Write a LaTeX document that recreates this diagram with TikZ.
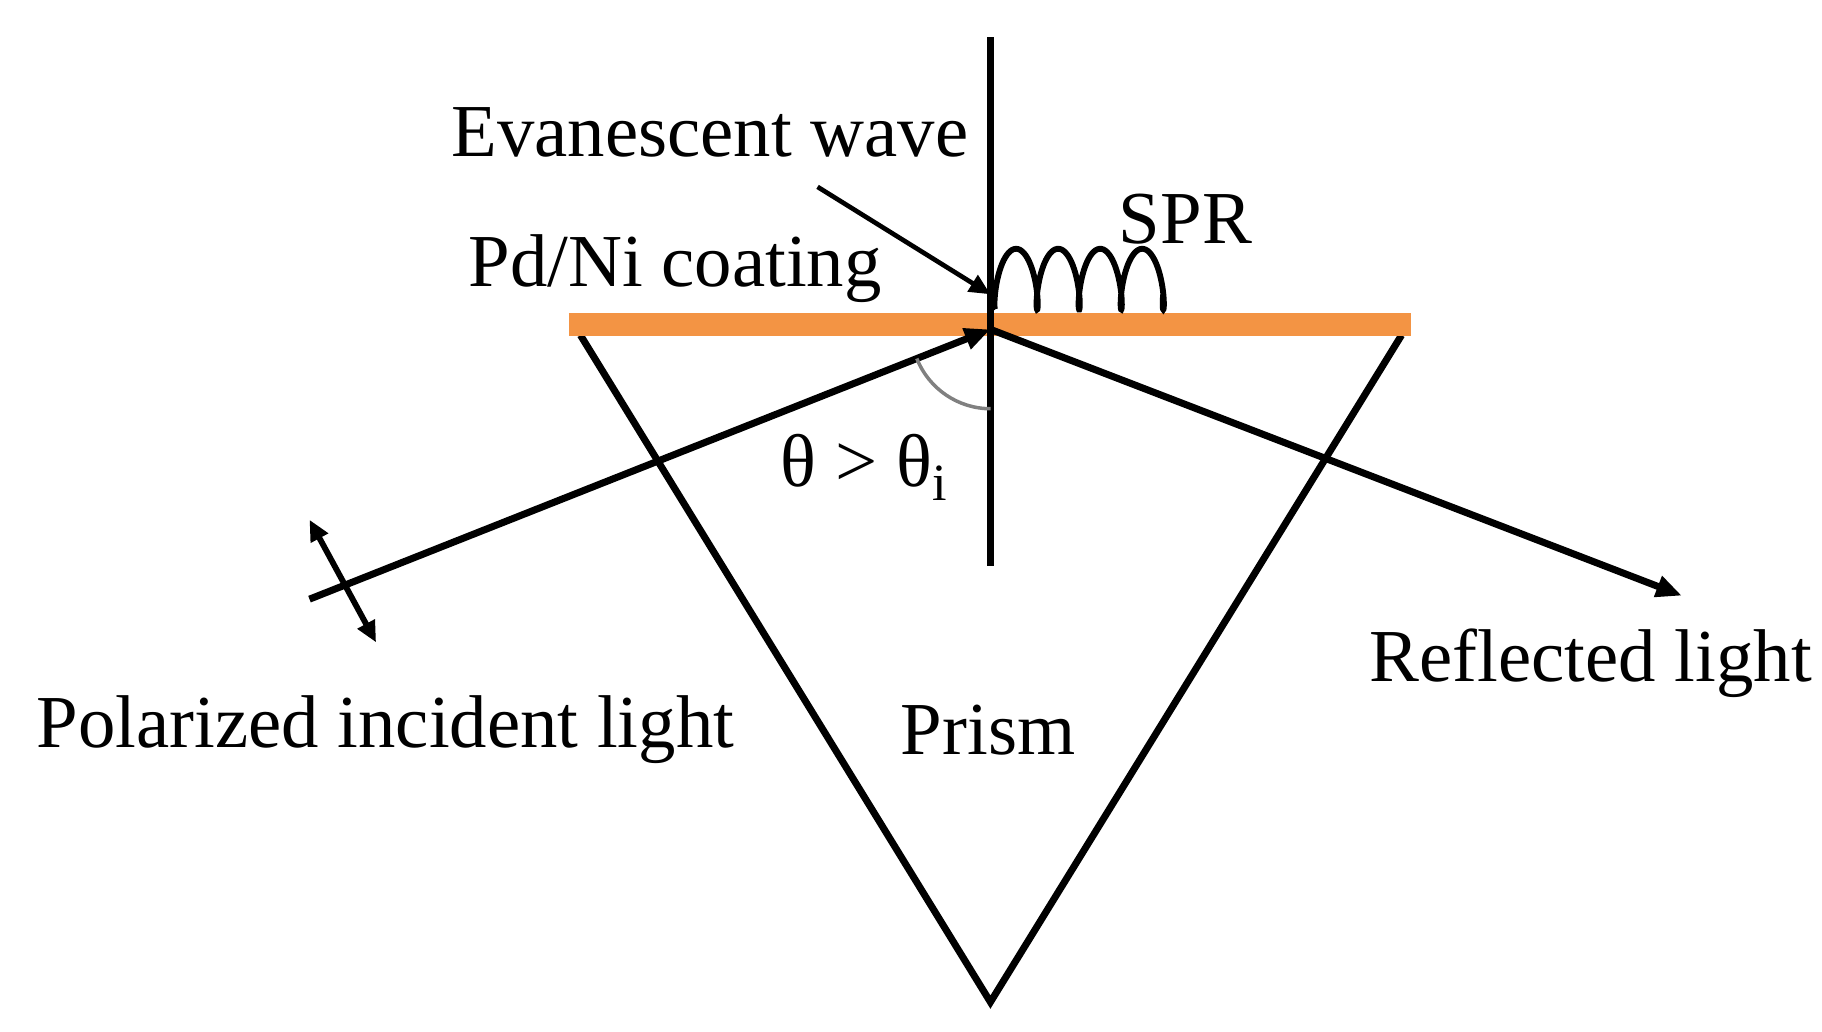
\documentclass[tikz,border=0pt]{standalone}
\usepackage{fontspec}
\setmainfont{Liberation Serif}
\usetikzlibrary{arrows.meta}
\begin{document}
\begin{tikzpicture}[x=0.5pt,y=-0.5pt,
  ln/.style={line width=3pt,black},
  arr/.style={ln,-{Triangle[length=11pt,width=9pt]}},
  lbl/.style={font=\fontsize{32}{36}\selectfont,inner sep=0}]
\useasboundingbox (0,0) rectangle (1560,883);
\coordinate (P) at (848,282);
\coordinate (tl) at (497,287);
\coordinate (tr) at (1200,287);
\coordinate (bt) at (848,858);
\draw[ln,line join=miter] (tl) -- (bt) -- (tr);
\draw[line width=10pt,color={rgb,255:red,243;green,148;blue,68}] (487,278) coordinate (bl) -- (1208,278) coordinate (br);
\draw[ln] (848,32) coordinate (vt) -- (848,485) coordinate (vb);
\coordinate (ia) at (265,513);
\draw[arr] (ia) -- (P);
\coordinate (ra) at (1440,510);
\draw[arr] (P) -- (ra);
\coordinate (pa) at (265,445); \coordinate (pb) at (322,550);
\draw[line width=2.5pt,{Triangle[length=9pt,width=8pt]}-{Triangle[length=9pt,width=8pt]}] (pa) -- (pb);
\coordinate (ea) at (700,160); \coordinate (eb) at (848,252);
\draw[line width=2pt,-{Triangle[length=9pt,width=8pt]}] (ea) -- (eb);
\draw[gray,line width=1.5pt] (785,307) arc[start angle=158.4,end angle=90,radius=68];
\draw[line width=2.5pt,smooth,samples=200,domain=0:1500] plot ({852+\x/10-7*sin(\x)},{265-26*(1-cos(\x))});
\coordinate (ca) at (852,265);
\node[lbl] (ev) at (608,113) {Evanescent wave};
\node[lbl] (spr) at (1015,188) {SPR};
\node[lbl] (pd) at (578,230) {Pd/Ni coating};
\node[lbl] (th) at (740,400) {θ > θ\textsubscript{i}};
\node[lbl] (pol) at (330,625) {Polarized incident light};
\node[lbl] (pr) at (846,625) {Prism};
\node[lbl] (rl) at (1362,568) {Reflected light};
\end{tikzpicture}
\end{document}
